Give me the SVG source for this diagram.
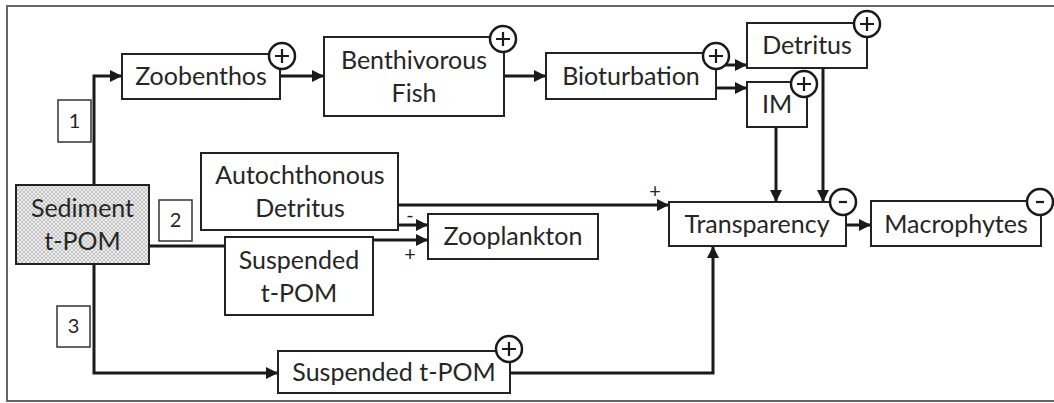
<svg xmlns="http://www.w3.org/2000/svg" width="1054" height="403" viewBox="0 0 1054 403">
  <style>
    .box { fill: #fff; stroke: #222; stroke-width: 2; }
    .num { fill: #fff; stroke: #333; stroke-width: 1.5; }
    .lbl { font-family: Lato, "Open Sans", sans-serif; font-size: 25px; fill: #262626; text-anchor: middle; }
    .nlbl { font-family: Lato, "Open Sans", sans-serif; font-size: 20px; fill: #262626; text-anchor: middle; }
    .sign { font-family: Lato, "Open Sans", sans-serif; font-size: 20px; fill: #262626; text-anchor: middle; }
    .badge { fill: #fff; stroke: #1a1a1a; stroke-width: 2.5; }
    .mark { stroke: #1a1a1a; stroke-width: 2.2; fill: none; }
    .wire { fill: none; stroke: #1a1a1a; stroke-width: 3; }
    .arrow { marker-end: url(#head); }
  </style>
  <defs>
    <marker id="head" markerUnits="userSpaceOnUse" markerWidth="13" markerHeight="13" refX="12" refY="6" orient="auto">
      <path d="M0,0 L12,6 L0,12 Z" fill="#1a1a1a"/>
    </marker>
    <pattern id="hatch" width="4" height="4" patternUnits="userSpaceOnUse">
      <rect width="4" height="4" fill="#ececec"/>
      <path d="M0,0 L4,4 M4,0 L0,4" stroke="#b4b4b4" stroke-width="0.7"/>
    </pattern>
    <!-- plus / minus badges -->
    <g id="plus">
      <circle r="13" class="badge"/>
      <path d="M-7,0 H7 M0,-7 V7" class="mark"/>
    </g>
    <g id="minus">
      <circle r="13" class="badge"/>
      <path d="M-4,0 H4" class="mark"/>
    </g>
  </defs>

  <!-- frame -->
  <rect x="7" y="6" width="1060" height="395" fill="#fff" stroke="#666" stroke-width="2"/>

  <!-- connectors -->
  <g id="connectors">
    <path class="wire arrow" d="M94,185 V76 H122"/>
    <path class="wire arrow" d="M280,76 H324"/>
    <path class="wire arrow" d="M504,76 H546"/>
    <path class="wire arrow" d="M716,65 H747"/>
    <path class="wire arrow" d="M716,88 H747"/>
    <path class="wire arrow" d="M776,127 V202"/>
    <path class="wire arrow" d="M823,68 V202"/>
    <path class="wire arrow" d="M398,205 H669"/>
    <path class="wire arrow" d="M398,225 H428"/>
    <path class="wire arrow" d="M373,240 H428"/>
    <path class="wire" d="M149,246 H225"/>
    <path class="wire arrow" d="M94,264 V373 H278"/>
    <path class="wire arrow" d="M510,373 H713 V246"/>
    <path class="wire arrow" d="M846,225 H871"/>
    <text class="sign" x="655" y="198">+</text>
    <text class="sign" x="410" y="222">-</text>
    <text class="sign" x="410" y="261">+</text>
  </g>

  <!-- route numbers -->
  <g id="route-1">
    <rect class="num" x="58" y="100" width="33" height="42"/>
    <text class="nlbl" x="74.5" y="128">1</text>
  </g>
  <g id="route-2">
    <rect class="num" x="159" y="200" width="33" height="41"/>
    <text class="nlbl" x="175.5" y="227">2</text>
  </g>
  <g id="route-3">
    <rect class="num" x="57" y="306" width="33" height="41"/>
    <text class="nlbl" x="73.5" y="333">3</text>
  </g>

  <!-- nodes -->
  <g id="sediment">
    <rect x="16" y="185" width="133" height="79" fill="url(#hatch)" stroke="#222" stroke-width="2"/>
    <text class="lbl" x="82.5" y="217">Sediment</text>
    <text class="lbl" x="82.5" y="250">t-POM</text>
  </g>
  <g id="zoobenthos">
    <rect class="box" x="122" y="54" width="158" height="45"/>
    <text class="lbl" x="201" y="85">Zoobenthos</text>
    <use href="#plus" x="282" y="56"/>
  </g>
  <g id="benthivorous-fish">
    <rect class="box" x="324" y="37" width="180" height="79"/>
    <text class="lbl" x="414" y="69">Benthivorous</text>
    <text class="lbl" x="414" y="102">Fish</text>
    <use href="#plus" x="503" y="39"/>
  </g>
  <g id="bioturbation">
    <rect class="box" x="546" y="53" width="170" height="46"/>
    <text class="lbl" x="631" y="85">Bioturbation</text>
    <use href="#plus" x="716" y="56"/>
  </g>
  <g id="detritus">
    <rect class="box" x="747" y="23" width="120" height="45"/>
    <text class="lbl" x="807" y="54">Detritus</text>
    <use href="#plus" x="867" y="24"/>
  </g>
  <g id="im">
    <rect class="box" x="747" y="82" width="60" height="45"/>
    <text class="lbl" x="777" y="113">IM</text>
    <use href="#plus" x="804" y="84"/>
  </g>
  <g id="autochthonous-detritus">
    <rect class="box" x="201" y="153" width="197" height="77"/>
    <text class="lbl" x="300" y="184">Autochthonous</text>
    <text class="lbl" x="300" y="217">Detritus</text>
  </g>
  <g id="suspended-tpom-mid">
    <rect class="box" x="225" y="237" width="148" height="78"/>
    <text class="lbl" x="299" y="269">Suspended</text>
    <text class="lbl" x="299" y="302">t-POM</text>
  </g>
  <g id="zooplankton">
    <rect class="box" x="428" y="214" width="170" height="45"/>
    <text class="lbl" x="513" y="245">Zooplankton</text>
  </g>
  <g id="transparency">
    <rect class="box" x="669" y="202" width="177" height="44"/>
    <text class="lbl" x="757" y="233">Transparency</text>
    <use href="#minus" x="843" y="202"/>
  </g>
  <g id="macrophytes">
    <rect class="box" x="871" y="201" width="170" height="45"/>
    <text class="lbl" x="956" y="233">Macrophytes</text>
    <use href="#minus" x="1040" y="202"/>
  </g>
  <g id="suspended-tpom-low">
    <rect class="box" x="278" y="351" width="232" height="42"/>
    <text class="lbl" x="394" y="381">Suspended t-POM</text>
    <use href="#plus" x="509" y="349"/>
  </g>
</svg>
